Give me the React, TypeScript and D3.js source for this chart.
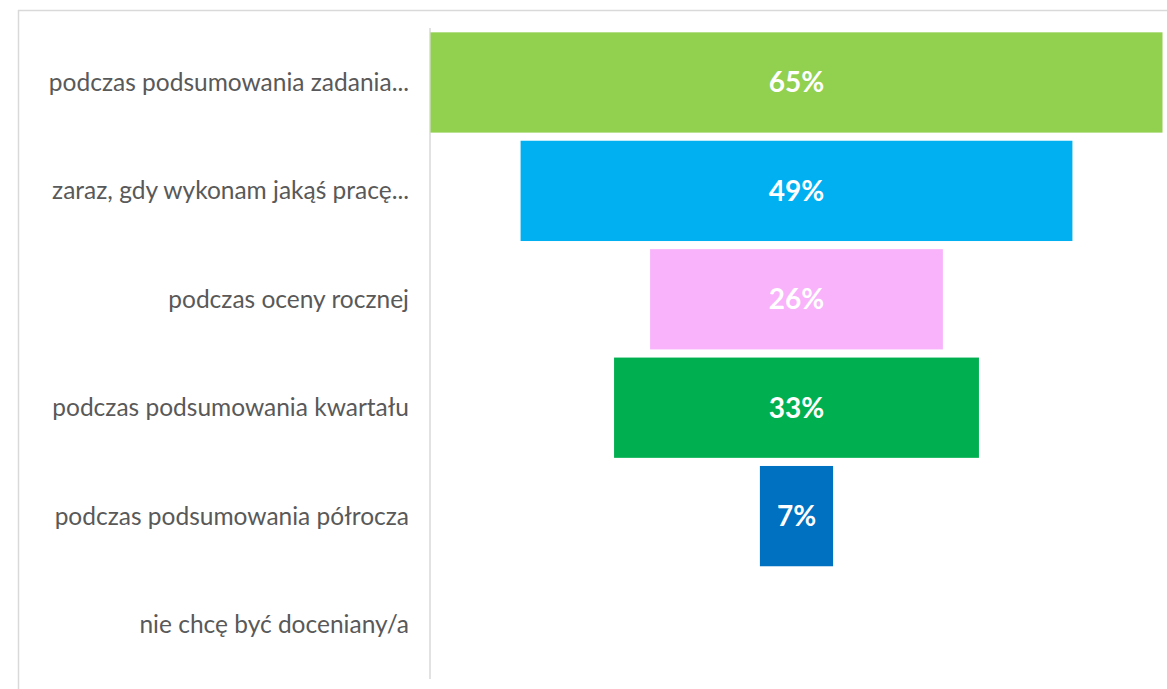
import React from "react";
import * as d3 from "d3";

const categories = [
  "podczas podsumowania zadania...",
  "zaraz, gdy wykonam jakąś pracę...",
  "podczas oceny rocznej",
  "podczas podsumowania kwartału",
  "podczas podsumowania półrocza",
  "nie chcę być doceniany/a",
];
// bar lengths (percent)
const values = [65, 49, 26, 32.4, 6.5, 0];
const valueLabels = ["65%", "49%", "26%", "33%", "7%", ""];
const colors = ["#92D050", "#00B0F0", "#F9B3FB", "#00B050", "#0070C0", "#A5A5A5"];

const W = 1167;
const H = 689;
const FONT = "Lato, 'Open Sans', sans-serif";

export default function App() {
  const axisX = 430;
  const plotRight = 1163;
  const plotTop = 28;
  const plotBottom = 679;
  const center = (axisX + plotRight) / 2;

  const y = d3.scaleBand<string>().domain(categories).range([plotTop, plotBottom]).paddingInner(0.075).paddingOuter(0.04);
  const maxV = d3.max(values) as number;
  const w = d3.scaleLinear().domain([0, maxV]).range([0, plotRight - axisX - 1]);

  return (
    <svg width={W} height={H} style={{ position: "absolute", left: 0, top: 0 }}>
      <rect x={0} y={0} width={W} height={H} fill="#fff" />
      <line x1={18} y1={10.5} x2={W} y2={10.5} stroke="#D9D9D9" strokeWidth={1.5} />
      <line x1={18.5} y1={10} x2={18.5} y2={H} stroke="#D9D9D9" strokeWidth={1.5} />
      <line x1={axisX} y1={plotTop} x2={axisX} y2={plotBottom} stroke="#D9D9D9" strokeWidth={1.5} />
      {categories.map((c, i) => {
        const yy = y(c) as number;
        const bw = w(values[i]);
        const cy = yy + y.bandwidth() / 2;
        return (
          <g key={c}>
            {values[i] > 0 && (
              <rect x={center - bw / 2} y={yy} width={bw} height={y.bandwidth()} fill={colors[i]} />
            )}
            <text x={409} y={cy} dy="0.35em" textAnchor="end" fontFamily={FONT} fontSize={24.5} fill="#595959">
              {c}
            </text>
            {valueLabels[i] && (
              <text x={center} y={cy} dy="0.35em" textAnchor="middle" fontFamily={FONT} fontSize={28} fontWeight="bold" fill="#fff">
                {valueLabels[i]}
              </text>
            )}
          </g>
        );
      })}
    </svg>
  );
}
